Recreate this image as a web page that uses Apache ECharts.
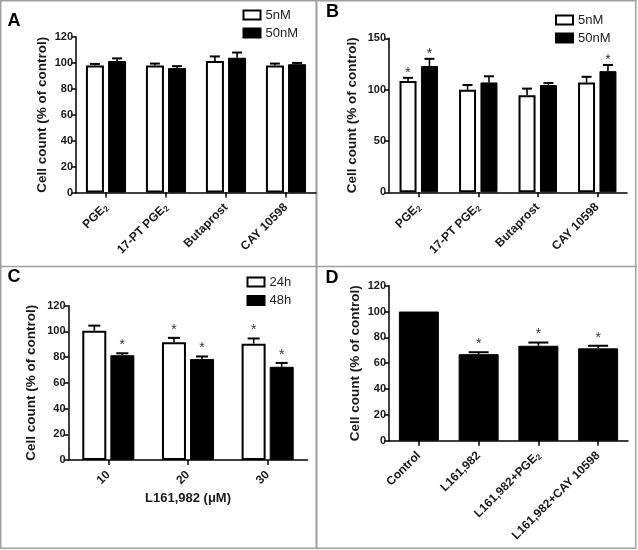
<!DOCTYPE html>
<html><head><meta charset="utf-8">
<script src="https://cdn.jsdelivr.net/npm/echarts@6/dist/echarts.min.js"></script>
<style>html,body{margin:0;padding:0;background:#fff}#c{width:638px;height:550px}</style>
</head><body><div id="c"></div><script>
// ---- data ----
const catsAB = ['PGE₂', '17-PT PGE₂', 'Butaprost', 'CAY 10598'];
const a5 = [98, 98, 101.5, 98];
const a5err = [1.2, 1.5, 3.5, 1.5];
const a50 = [101.5, 96, 104, 99];
const a50err = [2, 1.5, 4, 1];
const b5 = [108.5, 100, 94.5, 107];
const b5err = [3, 4.5, 6.5, 5.5];
const b5star = [1, 0, 0, 0];
const b50 = [123, 107, 104.5, 118];
const b50err = [7, 6, 2, 6];
const b50star = [1, 0, 0, 1];
const catsC = ['10', '20', '30'];
const c24 = [100.5, 91.5, 90.5];
const c24err = [4, 3.5, 4];
const c24star = [0, 1, 1];
const c48 = [81.5, 78.5, 72.5];
const c48err = [1.5, 2, 3];
const c48star = [1, 1, 1];
const catsD = ['Control', 'L161,982', 'L161,982+PGE₂', 'L161,982+CAY 10598'];
const dVals = [100, 67, 73.5, 71.5];
const dErr = [0, 1.5, 2.5, 2];
const dStar = [0, 1, 1, 1];
const zeros4 = [0, 0, 0, 0];
const yTitle = 'Cell count (% of control)';
const xTitleC = 'L161,982 (μM)';

// ---- chart ----
const FF = '"Liberation Sans", Arial, sans-serif';
const chart = echarts.init(document.getElementById('c'), null, {renderer: 'canvas'});

function fmtLabel(v) {
  const parts = String(v).split('₂');
  let out = '';
  parts.forEach((p, i) => {
    if (p) out += '{n|' + p + '}';
    if (i < parts.length - 1) out += '{s|2}';
  });
  return out;
}
const richSub = {
  n: {fontSize: 12, fontWeight: 'bold', fontFamily: FF, color: '#1a1a1a'},
  s: {fontSize: 8, fontWeight: 'bold', fontFamily: FF, color: '#1a1a1a', verticalAlign: 'bottom', padding: [6, 0, 0, 0]}
};

function yAxis(g, max, interval, nameGap) {
  return {
    type: 'value', gridIndex: g, min: 0, max: max, interval: interval,
    name: yTitle, nameLocation: 'middle', nameGap: nameGap,
    nameTextStyle: {fontSize: 13.5, fontWeight: 'bold', fontFamily: FF, color: '#1a1a1a'},
    axisLine: {show: true, lineStyle: {color: '#000', width: 1.5}},
    axisTick: {show: true, length: 5, lineStyle: {color: '#000', width: 1.5}},
    axisLabel: {fontSize: 11, fontWeight: 'bold', fontFamily: FF, color: '#1a1a1a', margin: 3},
    splitLine: {show: false}
  };
}
function xAxis(g, cats, extra) {
  return Object.assign({
    type: 'category', gridIndex: g, data: cats,
    axisLine: {show: true, lineStyle: {color: '#000', width: 1.5}},
    axisTick: {show: true, alignWithLabel: true, length: 5, lineStyle: {color: '#000', width: 1.5}},
    axisLabel: {interval: 0, rotate: 45, margin: 13, formatter: fmtLabel, rich: richSub},
    splitLine: {show: false}
  }, extra || {});
}
const whiteStyle = {color: '#fff', borderColor: '#000', borderWidth: 2};
const blackStyle = {color: '#000', borderColor: '#000', borderWidth: 1};

function bar(g, name, data, style, bw, gap) {
  return {type: 'bar', name: name, xAxisIndex: g, yAxisIndex: g, data: data,
    barWidth: bw, barGap: gap, itemStyle: style, silent: true, z: 2};
}
function errBars(g, vals, errs, stars, offset, cap, starGap) {
  return {
    type: 'custom', xAxisIndex: g, yAxisIndex: g, silent: true, z: 5,
    data: vals.map((v, i) => [i, v, errs[i], stars[i]]),
    encode: {x: 0, y: 1},
    renderItem: function (params, api) {
      const i = api.value(0), v = api.value(1), e = api.value(2), s = api.value(3);
      const p0 = api.coord([i, v]);
      const p1 = api.coord([i, v + e]);
      const x = p0[0] + offset;
      const ch = [];
      if (e > 0) {
        ch.push({type: 'line', shape: {x1: x, y1: p0[1], x2: x, y2: p1[1]}, style: {stroke: '#000', lineWidth: 1.6}});
        ch.push({type: 'line', shape: {x1: x - cap, y1: p1[1], x2: x + cap, y2: p1[1]}, style: {stroke: '#000', lineWidth: 2}});
      }
      if (s) {
        ch.push({type: 'text', style: {text: '*', x: x, y: p1[1] - starGap, align: 'center', verticalAlign: 'middle',
          fontSize: 14, fontFamily: FF, fill: '#333'}});
      }
      return {type: 'group', children: ch};
    }
  };
}

const legendBase = {orient: 'vertical', itemWidth: 17, itemHeight: 9, itemGap: 5, padding: 0, selectedMode: false,
  icon: 'rect', textStyle: {fontSize: 13, fontFamily: FF, color: '#222'}};

const option = {
  animation: false,
  backgroundColor: '#fff',
  grid: [
    {left: 76, top: 37, width: 240, height: 155.5},
    {left: 389, top: 38.3, width: 238, height: 154},
    {left: 68.5, top: 305.7, width: 239, height: 154.3},
    {left: 389, top: 285.7, width: 239, height: 155}
  ],
  xAxis: [
    xAxis(0, catsAB),
    xAxis(1, catsAB),
    xAxis(2, catsC, {name: xTitleC, nameLocation: 'middle', nameGap: 32,
      nameTextStyle: {fontSize: 13, fontWeight: 'bold', fontFamily: FF, color: '#1a1a1a'}}),
    xAxis(3, catsD)
  ],
  yAxis: [
    yAxis(0, 120, 20, 27),
    yAxis(1, 150, 50, 30),
    yAxis(2, 120, 20, 30),
    yAxis(3, 120, 20, 27)
  ],
  legend: [
    Object.assign({}, legendBase, {data: ['5nM', '50nM'], left: 242.5, top: 8.5}),
    Object.assign({}, legendBase, {data: ['5nM ', '50nM '], left: 555, top: 13.5}),
    Object.assign({}, legendBase, {data: ['24h', '48h'], left: 246.5, top: 275.5, itemGap: 5.5})
  ],
  series: [
    bar(0, '5nM', a5, whiteStyle, 18, '23%'),
    bar(0, '50nM', a50, blackStyle, 18, '23%'),
    errBars(0, a5, a5err, zeros4, -11.1, 5, 9),
    errBars(0, a50, a50err, zeros4, 11.1, 5, 9),
    bar(1, '5nM ', b5, whiteStyle, 17, '26%'),
    bar(1, '50nM ', b50, blackStyle, 17, '26%'),
    errBars(1, b5, b5err, b5star, -10.7, 5, 5),
    errBars(1, b50, b50err, b50star, 10.7, 5, 5),
    bar(2, '24h', c24, whiteStyle, 24, '17%'),
    bar(2, '48h', c48, blackStyle, 24, '17%'),
    errBars(2, c24, c24err, c24star, -14, 6, 8),
    errBars(2, c48, c48err, c48star, 14, 6, 8),
    bar(3, 'D', dVals, blackStyle, 40, '0%'),
    errBars(3, dVals, dErr, dStar, 0, 10, 8)
  ],
  graphic: [
    {type: 'rect', shape: {x: 0.75, y: 0.75, width: 635, height: 547.5}, style: {fill: 'none', stroke: '#a0a0a0', lineWidth: 1.5}, silent: true},
    {type: 'line', shape: {x1: 316.5, y1: 0, x2: 316.5, y2: 549}, style: {stroke: '#a0a0a0', lineWidth: 2}, silent: true},
    {type: 'line', shape: {x1: 0, y1: 266.5, x2: 637, y2: 266.5}, style: {stroke: '#a0a0a0', lineWidth: 1.5}, silent: true},
    {type: 'text', x: 14, y: 21, style: {text: 'A', fontSize: 18, fontWeight: 'bold', fontFamily: FF, fill: '#000', align: 'center', verticalAlign: 'middle'}},
    {type: 'text', x: 332.5, y: 12, style: {text: 'B', fontSize: 18, fontWeight: 'bold', fontFamily: FF, fill: '#000', align: 'center', verticalAlign: 'middle'}},
    {type: 'text', x: 14, y: 277, style: {text: 'C', fontSize: 18, fontWeight: 'bold', fontFamily: FF, fill: '#000', align: 'center', verticalAlign: 'middle'}},
    {type: 'text', x: 332, y: 278.5, style: {text: 'D', fontSize: 18, fontWeight: 'bold', fontFamily: FF, fill: '#000', align: 'center', verticalAlign: 'middle'}}
  ]
};
chart.setOption(option);
</script></body></html>
